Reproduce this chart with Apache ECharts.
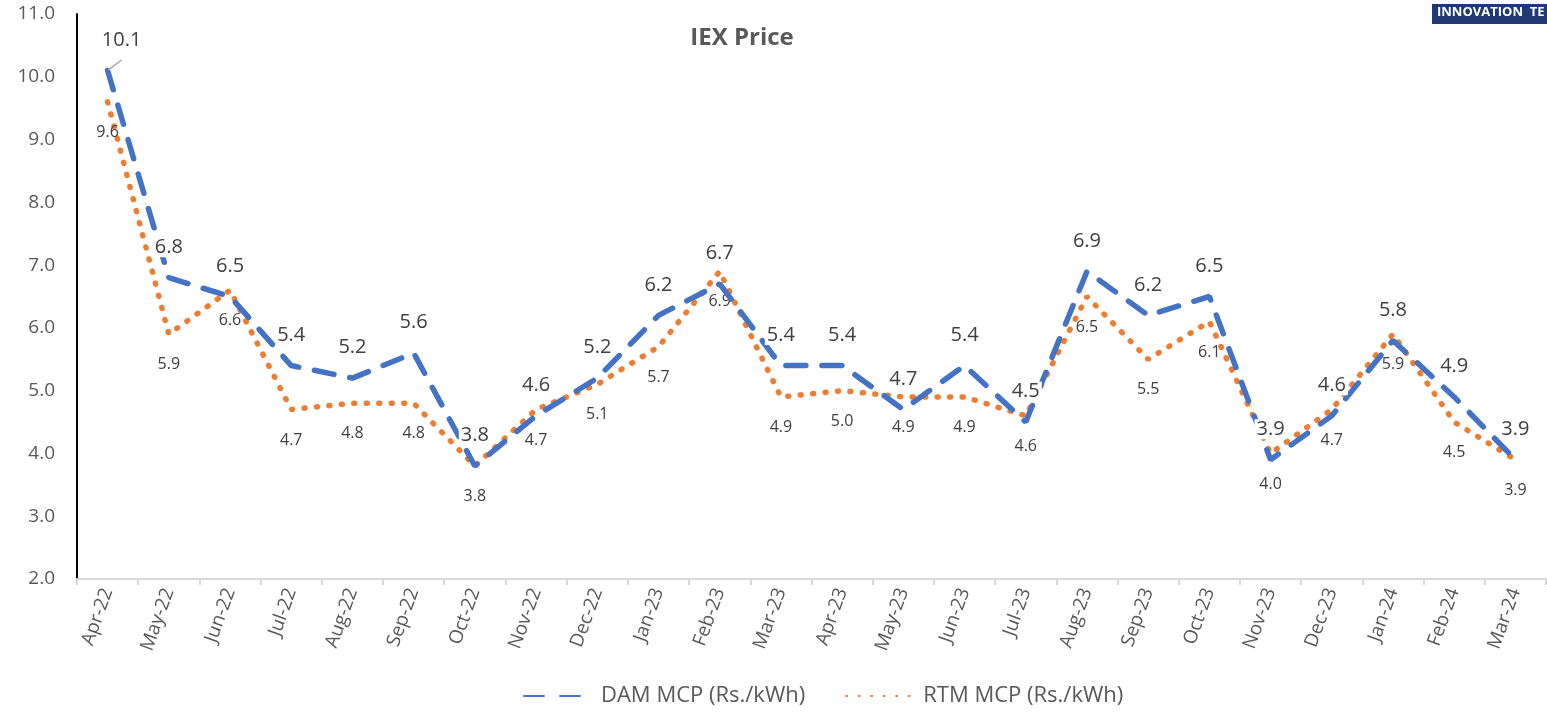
<!DOCTYPE html>
<html>
<head>
<meta charset="utf-8">
<script src="https://cdn.jsdelivr.net/npm/echarts@6/dist/echarts.min.js"></script>
<style>
  html, body { margin: 0; padding: 0; background: #fff; }
  #chart { width: 1547px; height: 714px; }
</style>
</head>
<body>
<div id="chart"></div>
<script>
// months on the category axis
const months = ['Apr-22', 'May-22', 'Jun-22', 'Jul-22', 'Aug-22', 'Sep-22', 'Oct-22', 'Nov-22',
  'Dec-22', 'Jan-23', 'Feb-23', 'Mar-23', 'Apr-23', 'May-23', 'Jun-23', 'Jul-23',
  'Aug-23', 'Sep-23', 'Oct-23', 'Nov-23', 'Dec-23', 'Jan-24', 'Feb-24', 'Mar-24'];

// DAM / RTM market clearing price (Rs./kWh)
const damMcp = [10.1, 6.8, 6.5, 5.4, 5.2, 5.6, 3.8, 4.6, 5.2, 6.2, 6.7, 5.4,
  5.4, 4.7, 5.4, 4.5, 6.9, 6.2, 6.5, 3.9, 4.6, 5.8, 4.9, 3.9];
const rtmMcp = [9.6, 5.9, 6.6, 4.7, 4.8, 4.8, 3.8, 4.7, 5.1, 5.7, 6.9, 4.9,
  5.0, 4.9, 4.9, 4.6, 6.5, 5.5, 6.1, 4.0, 4.7, 5.9, 4.5, 3.9];

const chart = echarts.init(document.getElementById('chart'));

const textFont = 'Open Sans, Noto Sans, sans-serif';

// first DAM label sits a bit to the right, with a leader line
const damData = damMcp.map((v, i) => i === 0
  ? { value: v, label: { offset: [14, 0] }, labelLine: { show: true, lineStyle: { color: '#a6a6a6', width: 1.5 } } }
  : v);

const option = {
  animation: false,
  textStyle: { fontFamily: textFont },
  title: {
    text: 'IEX Price',
    left: 737,
    top: 21,
    textAlign: 'center',
    textStyle: { fontSize: 24, fontWeight: 'bold', color: '#595959', fontFamily: textFont }
  },
  graphic: [
    {
      type: 'rect',
      left: 1432,
      top: 4,
      shape: { width: 120, height: 20 },
      style: { fill: '#1f3a73' }
    },
    {
      type: 'text',
      left: 1437,
      top: 6,
      style: { text: 'INNOVATION  TE', fill: '#fff', font: 'bold 13px ' + textFont }
    }
  ],
  legend: {
    bottom: 2,
    left: 518,
    itemWidth: 72,
    itemHeight: 14,
    itemGap: 40,
    itemStyle: { opacity: 0 },
    textStyle: { fontSize: 22, color: '#595959' },
    data: ['DAM MCP (Rs./kWh)', 'RTM MCP (Rs./kWh)']
  },
  grid: {
    left: 77,
    right: 1,
    top: 14,
    bottom: 135
  },
  xAxis: {
    type: 'category',
    data: months,
    boundaryGap: true,
    axisLine: { lineStyle: { color: '#d9d9d9', width: 2 } },
    axisTick: { show: true, length: 6, lineStyle: { color: '#d9d9d9', width: 2 } },
    axisLabel: {
      rotate: 70,
      interval: 0,
      fontSize: 19,
      color: '#595959',
      margin: 10
    }
  },
  yAxis: {
    type: 'value',
    min: 2,
    max: 11,
    interval: 1,
    splitLine: { show: false },
    axisLine: { show: true, lineStyle: { color: '#000', width: 2 } },
    axisTick: { show: false },
    axisLabel: {
      fontSize: 19,
      color: '#595959',
      margin: 22,
      formatter: v => v.toFixed(1)
    }
  },
  series: [
    {
      name: 'DAM MCP (Rs./kWh)',
      type: 'line',
      data: damData,
      symbol: 'circle',
      symbolSize: 1,
      z: 3,
      lineStyle: { color: '#4472C4', width: 5.5, type: [20, 16], cap: 'round' },
      itemStyle: { color: 'rgba(0,0,0,0)' },
      label: {
        show: true,
        position: 'top',
        distance: 20,
        fontSize: 20,
        color: '#404040',
        backgroundColor: '#fff',
        padding: [0, 2],
        formatter: p => p.value.toFixed(1)
      }
    },
    {
      name: 'RTM MCP (Rs./kWh)',
      type: 'line',
      data: rtmMcp,
      symbol: 'circle',
      symbolSize: 1,
      z: 2,
      lineStyle: { color: '#ED7D31', width: 5.5, type: [1, 11.5], cap: 'round' },
      itemStyle: { color: 'rgba(0,0,0,0)' },
      label: {
        show: true,
        position: 'bottom',
        distance: 22,
        fontSize: 16,
        color: '#404040',
        formatter: p => p.value.toFixed(1)
      }
    }
  ]
};

chart.setOption(option);
window.addEventListener('resize', () => chart.resize());
</script>
</body>
</html>
